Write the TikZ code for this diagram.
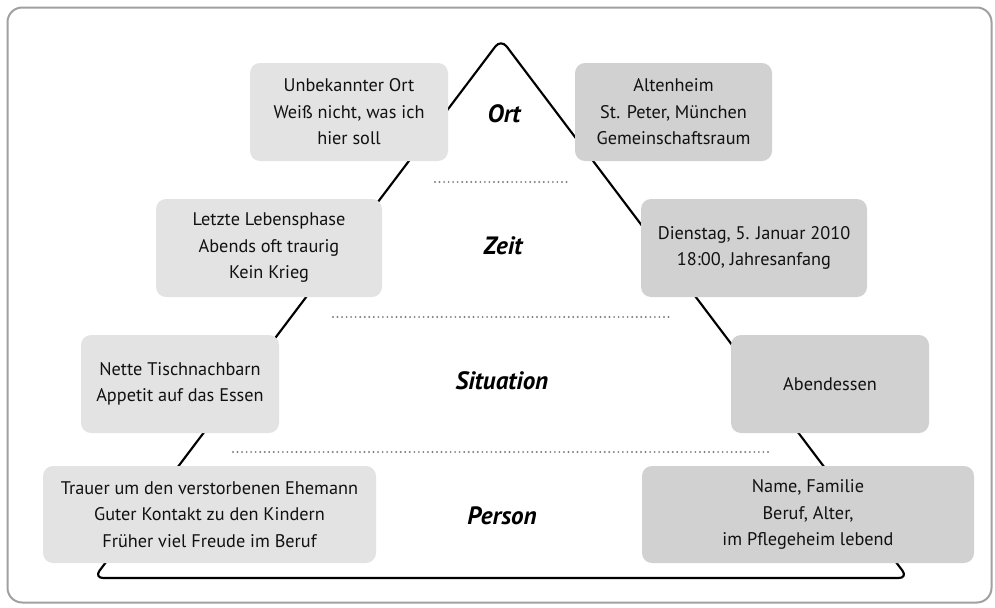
\documentclass[tikz,border=0pt]{standalone}
\usepackage{fontspec}
\setmainfont{PT Sans}
\definecolor{boxlight}{HTML}{E3E3E3}
\definecolor{boxdark}{HTML}{D0D1D0}
\definecolor{framegray}{HTML}{A0A0A0}
\definecolor{dotgray}{HTML}{808080}
\definecolor{textblack}{HTML}{111111}
\tikzset{
  infobox/.style={rectangle, rounded corners=7.5pt, inner sep=0pt, align=center,
    text=textblack, font=\fontsize{13.7}{19.9}\selectfont},
  lightbox/.style={infobox, fill=boxlight},
  darkbox/.style={infobox, fill=boxdark},
  level/.style={font=\fontsize{18.8}{22}\selectfont\bfseries\itshape, text=black, inner sep=0pt},
  sep/.style={draw=dotgray, line width=1.6pt, line cap=round, dash pattern=on 0pt off 3.4pt},
  tri/.style={draw=black, line width=1.6pt, rounded corners=7pt, line join=round}
}
\begin{document}
\begin{tikzpicture}[x=0.75pt, y=-0.75pt]
\useasboundingbox (0,0) rectangle (995,607);
% frame
\draw[framegray, line width=1.5pt, rounded corners=11pt] (7.5,7.5) rectangle (991.5,602.5);
% triangle
\draw[tri] (94,578) -- (501,39) -- (908,578) -- cycle;
% separators
\coordinate (d1a) at (435,182); \coordinate (d1b) at (568,182);
\coordinate (d2a) at (333,317); \coordinate (d2b) at (670,317);
\coordinate (d3a) at (233,452); \coordinate (d3b) at (770,452);
\draw[sep] (d1a) -- (d1b);
\draw[sep] (d2a) -- (d2b);
\draw[sep] (d3a) -- (d3b);
% level labels
\node[level] (ort) at (504,114) {Ort};
\node[level] (zeit) at (503,246) {Zeit};
\node[level] (situation) at (502,381) {Situation};
\node[level] (person) at (502,516) {Person};
% boxes
\node[lightbox, minimum width=148.5pt, minimum height=73.5pt] (oL) at (349,112)
  {Unbekannter Ort\\Weiß nicht, was ich\\hier soll};
\node[darkbox, minimum width=147.75pt, minimum height=73.5pt] (oR) at (673.5,112)
  {Altenheim\\St. Peter, München\\Gemeinschaftsraum};
\node[lightbox, minimum width=169.5pt, minimum height=73.5pt] (zL) at (269,248)
  {Letzte Lebensphase\\Abends oft traurig\\Kein Krieg};
\node[darkbox, minimum width=169.5pt, minimum height=73.5pt] (zR) at (754,248)
  {Dienstag, 5. Januar 2010\\18:00, Jahresanfang};
\node[lightbox, minimum width=148.5pt, minimum height=73.5pt] (sL) at (180,384)
  {Nette Tischnachbarn\\Appetit auf das Essen};
\node[darkbox, minimum width=148.5pt, minimum height=73.5pt] (sR) at (830,384)
  {Abendessen};
\node[lightbox, minimum width=249.75pt, minimum height=72.75pt] (pL) at (209.5,514.5)
  {Trauer um den verstorbenen Ehemann\\Guter Kontakt zu den Kindern\\Früher viel Freude im Beruf};
\node[darkbox, minimum width=249pt, minimum height=72.75pt] (pR) at (808,514.5)
  {Name, Familie\\Beruf, Alter,\\im Pflegeheim lebend};
\end{tikzpicture}
\end{document}
